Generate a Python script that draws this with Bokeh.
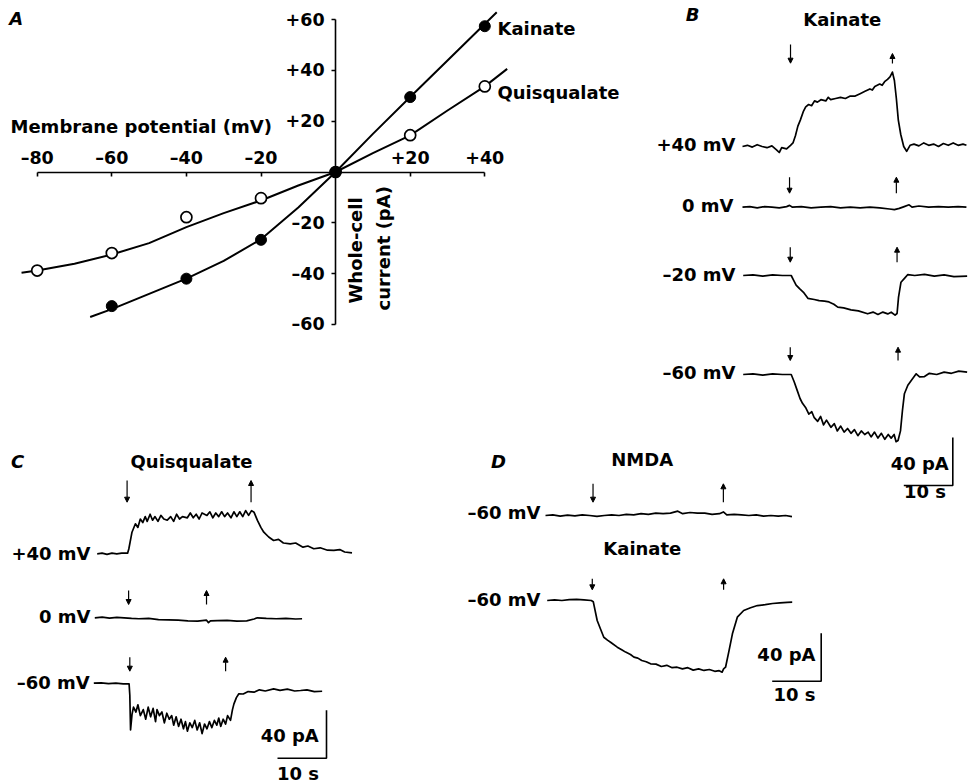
import math
from bokeh.plotting import figure
from bokeh.models import (Range1d, LinearAxis, FixedTicker, CustomJSTickFormatter,
                          Label, Arrow, NormalHead)
from bokeh.embed import file_html
from bokeh.resources import INLINE

# ---------------- data ----------------
# Panel A: I-V relation (membrane potential mV, whole-cell current pA)
KAI_V = [-60, -40, -20, 0, 20, 40]
KAI_I = [-52.8, -42.0, -26.7, 0, 29.5, 57.4]
QUI_V = [-80, -60, -40, -20, 0, 20, 40]
QUI_I = [-38.8, -31.9, -17.8, -10.3, 0, 14.5, 33.7]
KAI_FIT_V = [-65.8, -60, -50, -40, -30, -20, -10, 0, 10, 20, 30, 43.2]
KAI_FIT_I = [-57.1, -54.0, -48.0, -42.0, -35.0, -26.5, -14.0, 0, 15.0, 29.5, 43.9, 62.9]
QUI_FIT_V = [-84.2, -80, -70, -60, -50, -40, -30, -20, -10, 0, 10, 20, 30, 40, 46]
QUI_FIT_I = [-39.7, -38.8, -36.1, -32.5, -28.0, -21.7, -16.2, -11.2, -5.3, 0, 7.4, 14.4, 24.2, 33.7, 40.6]
X_TICKS = [-80, -60, -40, -20, 0, 20, 40]
Y_TICKS = [-60, -40, -20, 20, 40, 60]

# Current traces: (time s from trace start, current pA relative to holding level)
B_KAI_P40 = [(0, 0), (1, 1), (2, -0.5), (3, 1.5), (4, 0), (5, -1), (6, 0.5), (7, -3), (7.5, -5), (8, -1),
             (9, -2), (9.8, 1), (10.3, 3), (10.8, 9), (11.3, 17), (11.8, 22), (12.4, 29), (12.9, 33),
             (13.5, 35), (14.1, 34), (14.7, 38), (15.3, 37), (16, 39), (17, 38), (17.5, 41), (18, 39),
             (19, 40), (20, 41), (21, 40), (22, 42), (23, 42), (24, 44), (25, 46), (26, 48), (26.5, 47),
             (27, 50), (28, 52), (28.5, 51), (29, 54), (29.6, 56), (30.1, 58), (30.6, 62), (31.0, 55),
             (31.4, 40), (31.8, 22), (32.3, 10), (32.9, 0), (33.5, -4), (34.2, 1), (35, 2), (36, 0.5),
             (37, 3), (38, 1), (39, 2), (40, 0), (41, 2.5), (42, 1), (43, 3), (44, 1), (45, 2), (45.7, 1)]
B_KAI_0 = [(0, 0), (1.5, 0.5), (3, -0.5), (4.5, 0.5), (6, 0), (7.5, -0.5), (9, 0.5), (9.6, 1.5), (10.2, 0),
           (12, 0.5), (14, -0.5), (16, 0), (18, 0.5), (20, -0.5), (22, 0), (24, -0.5), (26, 0), (28, -0.5),
           (30, -1.5), (31, -2), (32, -1), (33, 0.5), (34, 2), (34.6, 0), (36, 1), (38, 0), (40, 0.5),
           (42, 0), (44, 0.5), (45.7, 0)]
B_KAI_M20 = [(0, 0), (2, 0.5), (4, -0.5), (6, 0.5), (8, 0), (9.8, 0), (10.3, -4), (10.8, -8), (11.5, -11),
             (12.3, -14), (13.2, -19), (14.5, -20), (15.5, -21), (16.6, -21.4), (17.5, -22), (18.5, -24),
             (19.3, -26.4), (20.5, -27), (22, -28.6), (23.5, -29.5), (25.4, -31.9), (26.5, -30.5),
             (27.5, -32.5), (28.5, -30.5), (29.5, -32), (30.2, -30.6), (31, -33), (31.4, -31.7),
             (31.7, -18), (32.2, -5.6), (33, -2), (33.6, 0.8), (35, 0), (37, 1), (39, -0.5), (41, 0.5),
             (43, -1), (45.7, -0.5)]
B_KAI_M60 = [(0, 0), (2, 0.5), (4, -0.5), (6, 0.5), (8, 0), (9.8, 0), (10.4, -6), (11, -13), (11.6, -20),
             (12.1, -24), (12.8, -28), (13.4, -33), (14, -31), (14.5, -36), (15.2, -39), (15.8, -35),
             (16.4, -42), (17, -38), (17.9, -44), (18.6, -41), (19.2, -47), (19.9, -43), (20.6, -48),
             (21.3, -45), (22, -49), (22.7, -46), (23.4, -51), (24.1, -47), (24.8, -50), (25.5, -48),
             (26.1, -52), (26.8, -48), (27.5, -53), (28.2, -49), (28.9, -54), (29.6, -50), (30.2, -53),
             (30.8, -50), (31.2, -56), (31.6, -55), (32.1, -47), (32.5, -30), (32.9, -16), (33.6, -9),
             (34.3, -5), (35.3, 0.6), (36, -2), (37, -1.7), (38, 1), (39.5, 0), (41, 2), (42.5, 1),
             (44, 2.8), (45.7, 2)]
C_QUI_P40 = [(0, 0), (1, 0.5), (2, -0.5), (3, 0.5), (4, 0), (5, 0.5), (6.2, 0.5), (6.45, 4), (7.1, 18),
             (7.8, 25), (8.3, 22), (8.8, 29), (9.3, 26), (9.8, 31), (10.2, 27), (10.8, 33), (11.3, 28),
             (11.8, 31), (12.4, 27), (13, 32), (13.6, 29), (14.3, 28), (15, 31), (15.6, 27), (16.2, 33),
             (16.8, 29), (17.4, 31), (18.4, 30), (19, 34), (19.6, 30), (20.2, 33), (20.8, 29), (21.4, 34),
             (22.4, 32), (23, 35), (23.6, 30), (24.2, 34), (24.8, 31), (25.4, 35), (26, 31), (26.6, 34),
             (27.3, 30), (27.9, 35), (28.5, 31), (29.1, 35), (29.7, 31), (30.3, 36), (30.9, 32), (31.5, 36),
             (32, 34.7), (32.7, 27.8), (33.4, 22), (34, 18), (35, 14), (36, 11.1), (37, 12), (38, 9),
             (39.4, 8.3), (40.5, 9), (42, 5.5), (43, 6.5), (44.2, 4.2), (45.5, 5), (47, 3), (48.3, 2.8),
             (49.5, 3.5), (50.5, 1.5), (52, 0.8)]
C_QUI_0 = [(0, 0), (1.5, 0.5), (3, -0.3), (4.5, 0.3), (6, 0), (7.5, -0.5), (9, -0.8), (11, -0.5),
           (13, -1.5), (15, -1.8), (17, -2), (19, -2.5), (21, -2.8), (22.8, -2), (23.2, -4), (23.6, -2.5),
           (25, -2.4), (27, -2.2), (29, -2.8), (31, -2.5), (32.5, -1), (33.2, 0), (35, -0.5), (37, -0.8),
           (39, -0.5), (41, -1), (42.3, -0.8)]
C_QUI_M60 = [(0, 0), (1.5, 0.3), (3, -0.3), (4.5, 0), (6, -0.5), (7.2, -0.5), (7.35, -10), (7.5, -39),
             (7.8, -26), (8.1, -20), (8.6, -24), (9.0, -18), (9.5, -27), (10.1, -22), (10.6, -30),
             (11.1, -20), (11.6, -28), (12.1, -21), (12.6, -32), (12.9, -22), (13.4, -27), (13.9, -24),
             (14.4, -33), (14.9, -25), (15.4, -30), (15.9, -27), (16.3, -35), (16.8, -28), (17.3, -36),
             (17.8, -30), (18.3, -38), (18.7, -32), (19.1, -40), (19.6, -33), (20.1, -37), (20.6, -31),
             (21.1, -39), (21.6, -33), (22.1, -42), (22.6, -34), (23.1, -38), (23.6, -32), (24.1, -37),
             (24.6, -31), (25.1, -35), (25.5, -29), (25.9, -36), (26.4, -30), (26.9, -34), (27.3, -27),
             (27.9, -31), (28.3, -22), (28.6, -17.2), (29.1, -12), (29.6, -8.8), (30.5, -9), (31.5, -7),
             (32.7, -7.5), (33.8, -5.5), (35, -6.5), (36.7, -4.7), (38, -6), (39.5, -5), (41, -6.5),
             (42.2, -6.1), (43.5, -5.5), (45, -7), (46.6, -6.7)]
D_NMDA_M60 = [(0, 0), (1.5, 0.5), (3, -0.5), (4.5, 0.3), (6, -0.3), (7.5, 0.5), (9, 0), (10.5, -0.8),
              (12, 0), (13.5, 0.5), (15, 0), (16.5, 1), (18, 0.5), (19.5, 1.5), (21, 1), (22.5, 2),
              (24, 1.5), (25.5, 2), (27, 3.6), (28, 1.5), (29.5, 2.5), (31, 2), (32.5, 2), (34, 1),
              (35.5, 1.5), (36.3, 3), (37, 0.5), (38.5, 1), (40, 0.5), (41.5, 0), (43, 0.5), (44.5, -0.5),
              (46, 0), (47.5, -0.5), (49, 0), (50.3, -1)]
D_KAI_M60 = [(0, 0), (1.5, 0.5), (3, 0), (4.5, 0.8), (6, 1), (7.5, 0.5), (9, 0), (9.4, -1), (10.2, -16.7),
             (10.9, -24), (11.55, -30.6), (12.3, -33), (13, -35), (14.3, -38.9), (15.2, -41), (16, -43),
             (17, -45), (17.7, -47.2), (18.5, -48), (19.3, -50), (20.2, -51), (21.1, -52.8), (22.2, -53),
             (23.3, -55), (24.4, -54), (25.5, -56), (26.5, -55.6), (27.6, -57), (28.7, -56), (29.8, -58),
             (30.9, -57), (32, -58.3), (33.1, -57.5), (34.2, -59), (35.1, -58.5), (35.7, -59.7),
             (36.0, -57), (36.4, -55.6), (37.1, -42), (37.8, -27.8), (38.8, -13.9), (40.1, -8.3),
             (41.5, -6), (42.9, -4.2), (44.5, -3.5), (46, -2.5), (47.5, -2), (49, -1.5), (50, -1.4)]

# drug application on / off times (s) for each trace
DRUG_ON = {"B40": 9.8, "B0": 9.6, "Bm20": 9.6, "Bm60": 9.6, "C40": 6.1, "C0": 6.9, "Cm60": 7.35,
           "DN": 9.7, "DK": 9.2}
DRUG_OFF = {"B40": 30.6, "B0": 31.4, "Bm20": 31.4, "Bm60": 31.6, "C40": 31.4, "C0": 22.8, "Cm60": 26.9,
            "DN": 36.3, "DK": 36.0}
SCALE_PA = 40
SCALE_S = 10

# ---------------- layout ----------------
W, H = 968, 783
MARGIN = 0
FONT = "DejaVu Sans"
TXT = "18px"
BASELINE_FIX = 7.5  # svg text sits lower than the requested alphabetic baseline

# coordinate systems: page pixel of data origin, px per unit in x and y
SYS = {
    "A": (335.1, 171.5, 3.73, 2.54),
    "B40": (742.0, 146.0, 4.9, 1.2),
    "B0": (742.0, 206.7, 4.9, 1.2),
    "Bm20": (742.7, 275.0, 4.9, 1.2),
    "Bm60": (742.7, 374.0, 4.9, 1.2),
    "C40": (96.7, 553.3, 4.9, 1.2),
    "C0": (94.3, 617.3, 4.9, 1.2),
    "Cm60": (93.3, 682.7, 4.9, 1.2),
    "DN": (545.0, 515.0, 4.9, 1.2),
    "DK": (546.7, 600.0, 4.9, 1.2),
}


def make_ranges(name):
    ox, oy, kx, ky = SYS[name]
    fx, fy = ox - MARGIN, oy - MARGIN
    return Range1d(-fx / kx, (W - fx) / kx), Range1d(-(H - fy) / ky, fy / ky)


def kw(name):
    return {} if name == "A" else dict(x_range_name=name, y_range_name=name)


def to_data(name, px, py):
    ox, oy, kx, ky = SYS[name]
    return (px - ox) / kx, (oy - py) / ky


xrA, yrA = make_ranges("A")
p = figure(width=W, height=H, x_range=xrA, y_range=yrA, x_axis_type=None, y_axis_type=None,
           toolbar_location=None, output_backend="svg", min_border=0, outline_line_color=None)
p.background_fill_color = "white"
for name in SYS:
    if name != "A":
        xr, yr = make_ranges(name)
        p.extra_x_ranges[name] = xr
        p.extra_y_ranges[name] = yr

# ---------------- panel A ----------------
fmt = CustomJSTickFormatter(code="""
    if (tick > 0) return '+' + tick;
    if (tick < 0) return '\u2013' + Math.abs(tick);
    return '';
""")
AX = dict(axis_line_width=1.6, major_tick_line_width=1.6, minor_tick_line_color=None,
          major_label_text_font=FONT, major_label_text_font_style="bold",
          major_label_text_font_size="17.5px", major_label_text_color="black",
          axis_line_color="black", major_tick_line_color="black")
xa = LinearAxis(fixed_location=0, bounds=(-80, 40), ticker=FixedTicker(ticks=X_TICKS), formatter=fmt,
                major_tick_in=4, major_tick_out=0, major_label_standoff=4, **AX)
p.add_layout(xa, "above")
ya = LinearAxis(fixed_location=0, bounds=(-60, 60), ticker=FixedTicker(ticks=Y_TICKS), formatter=fmt,
                major_tick_in=0, major_tick_out=4, major_label_standoff=7, **AX)
p.add_layout(ya, "left")

p.line(KAI_FIT_V, KAI_FIT_I, line_width=2, color="black")
p.line(QUI_FIT_V, QUI_FIT_I, line_width=2, color="black")
p.scatter(QUI_V, QUI_I, size=11, fill_color="white", line_color="black", line_width=1.7)
p.scatter(KAI_V, KAI_I, size=11, fill_color="black", line_color="black")


def text(name, px, py, s, align="left", baseline="alphabetic", style="bold", size=TXT, angle=0.0):
    if baseline == "alphabetic":
        py -= BASELINE_FIX
    x, y = to_data(name, px, py)
    p.add_layout(Label(x=x, y=y, text=s, text_align=align, text_baseline=baseline, angle=angle,
                       text_font=FONT, text_font_style=style, text_font_size=size,
                       text_color="black", **kw(name)))


text("A", 15.8, 25, "A", align="center", style="bold italic")
text("A", 10, 133.3, "Membrane potential (mV)")
text("A", 497, 35, "Kainate")
text("A", 497, 99.3, "Quisqualate")
text("A", 355, 303, "Whole-cell", baseline="middle", angle=math.pi / 2)
text("A", 383, 310, "current (pA)", baseline="middle", angle=math.pi / 2)

# ---------------- traces ----------------
TRACES = [("B40", B_KAI_P40), ("B0", B_KAI_0), ("Bm20", B_KAI_M20), ("Bm60", B_KAI_M60),
          ("C40", C_QUI_P40), ("C0", C_QUI_0), ("Cm60", C_QUI_M60),
          ("DN", D_NMDA_M60), ("DK", D_KAI_M60)]
for name, pts in TRACES:
    t = [a for a, b in pts]
    i = [b for a, b in pts]
    p.line(t, i, line_width=1.7, color="black", line_join="round", **kw(name))

# arrow vertical extents (page px): down arrow top/bottom, up arrow bottom/top
ARROW_Y = {
    "B40": (44.0, 62.7, 63.0, 53.0),
    "B0": (176.7, 192.7, 192.7, 176.7),
    "Bm20": (246.7, 261.7, 261.7, 246.7),
    "Bm60": (346.7, 360.0, 360.0, 346.7),
    "C40": (480.0, 501.7, 501.7, 480.0),
    "C0": (590.0, 604.0, 604.0, 590.0),
    "Cm60": (656.7, 670.7, 670.7, 656.7),
    "DN": (483.3, 501.7, 501.7, 483.3),
    "DK": (578.3, 589.3, 589.3, 578.3),
}
for name, (d0, d1, u0, u1) in ARROW_Y.items():
    _, ky0 = to_data(name, 0, d0)
    _, ky1 = to_data(name, 0, d1)
    _, uy0 = to_data(name, 0, u0)
    _, uy1 = to_data(name, 0, u1)
    for x, y0, y1 in [(DRUG_ON[name], ky0, ky1), (DRUG_OFF[name], uy0, uy1)]:
        p.add_layout(Arrow(x_start=x, y_start=y0, x_end=x, y_end=y1, line_width=1.2, line_color="black",
                           end=NormalHead(size=5, line_width=1, line_color="black", fill_color="black"),
                           **kw(name)))

# scale bars (corner in page px)
for name, cx, cy in [("Bm60", 952.3, 485.0), ("Cm60", 326.0, 757.7), ("DK", 820.7, 680.7)]:
    tx, iy = to_data(name, cx, cy)
    p.line([tx - SCALE_S, tx, tx], [iy, iy, iy + SCALE_PA], line_width=1.6, color="black", **kw(name))

# panel B texts
text("B40", 692, 21.7, "B", align="center", style="bold italic")
text("B40", 841.7, 26.7, "Kainate", align="center")
text("B40", 735, 151, "+40 mV", align="right")
text("B0", 733, 212, "0 mV", align="right")
text("Bm20", 735, 281, "\u201320 mV", align="right")
text("Bm60", 735, 379, "\u201360 mV", align="right")
text("Bm60", 948.3, 470, f"{SCALE_PA} pA", align="right")
text("Bm60", 924.5, 498, f"{SCALE_S} s", align="center")
# panel C texts
text("C40", 17, 468.3, "C", align="center", style="bold italic")
text("C40", 191, 468.3, "Quisqualate", align="center")
text("C40", 90, 560, "+40 mV", align="right")
text("C0", 90, 623, "0 mV", align="right")
text("Cm60", 89.3, 689, "\u201360 mV", align="right")
text("Cm60", 318.3, 742, f"{SCALE_PA} pA", align="right")
text("Cm60", 297.5, 780, f"{SCALE_S} s", align="center")
# panel D texts
text("DN", 498, 468.3, "D", align="center", style="bold italic")
text("DN", 641.7, 466.7, "NMDA", align="center")
text("DN", 540, 519, "\u201360 mV", align="right")
text("DK", 641.8, 555, "Kainate", align="center")
text("DK", 540, 606, "\u201360 mV", align="right")
text("DK", 815, 661.7, f"{SCALE_PA} pA", align="right")
text("DK", 794, 701.7, f"{SCALE_S} s", align="center")

open("out.html", "w").write(file_html(p, INLINE))
